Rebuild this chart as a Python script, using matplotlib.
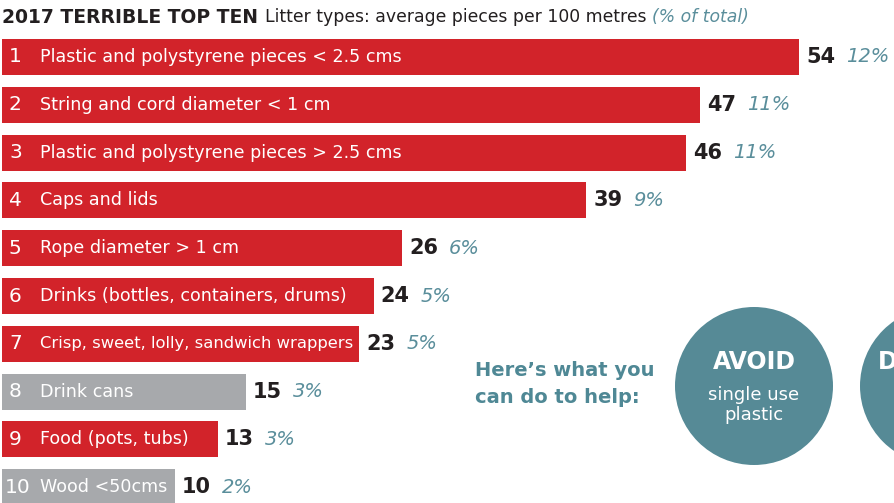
import matplotlib
matplotlib.use("Agg")
import matplotlib.pyplot as plt
from matplotlib.patches import Circle

# ---- data ----
ranks = ["1", "2", "3", "4", "5", "6", "7", "8", "9", "10"]
categories = [
    "Plastic and polystyrene pieces < 2.5 cms",
    "String and cord diameter < 1 cm",
    "Plastic and polystyrene pieces > 2.5 cms",
    "Caps and lids",
    "Rope diameter > 1 cm",
    "Drinks (bottles, containers, drums)",
    "Crisp, sweet, lolly, sandwich wrappers",
    "Drink cans",
    "Food (pots, tubs)",
    "Wood <50cms",
]
pieces = [54, 47, 46, 39, 26, 24, 23, 15, 13, 10]
pct_total = [12, 11, 11, 9, 6, 5, 5, 3, 3, 2]
is_plastic = [True, True, True, True, True, True, True, False, True, False]

title_bold = "2017 TERRIBLE TOP TEN"
title_rest = "Litter types: average pieces per 100 metres"
title_note = "(% of total)"

# ---- style ----
RED = "#d2232a"
GREY = "#a7a9ac"
TEAL = "#568a96"
TEAL_TXT = "#5a8e9b"
DARK = "#231f20"
FONT = "DejaVu Sans"
plt.rcParams["font.family"] = [FONT]

W, H = 894, 503
fig = plt.figure(figsize=(W / 100, H / 100), dpi=100)
ax = fig.add_axes([0, 0, 1, 1])
XMIN, XMAX = -2.33, 60.68
ax.set_xlim(XMIN, XMAX)
ax.set_ylim(9.33, -1.192)
ax.axis("off")
PXU = W / (XMAX - XMIN)  # pixels per unit

BASE = -2.18
ys = list(range(len(pieces)))
colors = [RED if p else GREY for p in is_plastic]
bars = ax.barh(ys, [v - BASE for v in pieces], left=BASE, height=0.755,
               color=colors, edgecolor="none")

# overlay in pixel coordinates for labels / decorations
ov = fig.add_axes([0, 0, 1, 1], facecolor="none")
ov.set_xlim(0, W)
ov.set_ylim(H, 0)
ov.axis("off")

fig.canvas.draw()
renderer = fig.canvas.get_renderer()

LABEL_FS = 12.6
for y, r, c, v, p in zip(ys, ranks, categories, pieces, pct_total):
    ax.text(XMIN + (9 if len(r) == 1 else 5) / PXU, y, r,
            color="white", fontsize=14.5, va="center", ha="left")
    lab = ax.text(XMIN + 40 / PXU, y, c, color="white", fontsize=LABEL_FS,
                  va="center", ha="left")
    lb = lab.get_window_extent(renderer)
    bar_end = ax.transData.transform((v, y))[0]
    avail = bar_end - 4 - lb.x0
    if lb.width > avail:
        lab.set_fontsize(LABEL_FS * avail / lb.width)
    t = ax.annotate(str(v), (v, y), xytext=(7, 0), textcoords="offset pixels",
                    color=DARK, fontsize=15, fontweight="bold",
                    va="center", ha="left")
    bb = t.get_window_extent(renderer)
    ax.annotate(f"{p}%", (v, y), xytext=(bb.x1 - bar_end + 11, 0),
                textcoords="offset pixels", color=TEAL_TXT, fontsize=14,
                style="italic", va="center", ha="left")

# title
t1 = ov.text(2, 17, title_bold, fontsize=13.5, fontweight="bold", color=DARK,
             va="center", ha="left")
bb1 = t1.get_window_extent(renderer)
t2 = ov.text(bb1.x1 + 7, 17, title_rest, fontsize=12.4, color=DARK,
             va="center", ha="left")
bb2 = t2.get_window_extent(renderer)
ov.text(bb2.x1 + 6, 17, title_note, fontsize=12.4, color=TEAL_TXT,
        style="italic", va="center", ha="left")

# call-to-action
ov.text(475, 384, "Here\u2019s what you\ncan do to help:", fontsize=14,
        fontweight="bold", color="#4f8895", va="center", ha="left",
        linespacing=1.55)
ov.add_patch(Circle((754, 386), 79, color=TEAL, ec="none"))
ov.add_patch(Circle((939, 386), 79, color=TEAL, ec="none"))
ov.text(754, 362, "AVOID", fontsize=17, fontweight="bold", color="white",
        va="center", ha="center")
ov.text(754, 405, "single use\nplastic", fontsize=13, color="white",
        va="center", ha="center", linespacing=1.15)
ov.text(878, 362, "D", fontsize=17, fontweight="bold", color="white",
        va="center", ha="left", clip_on=False)

fig.savefig("out.png", dpi=100)
